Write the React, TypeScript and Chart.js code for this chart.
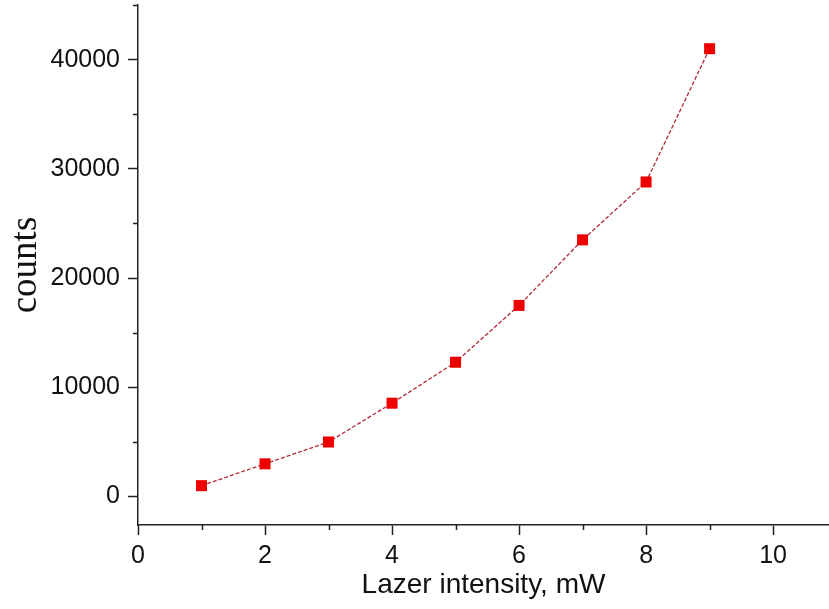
import React, { useEffect, useRef } from "react";
import { Chart, registerables } from "chart.js";

Chart.register(...registerables);

// Data
const intensities = [1, 2, 3, 4, 5, 6, 7, 8, 9];
const counts = [1000, 3000, 5000, 8550, 12300, 17500, 23500, 28800, 41000];
const xMajorTicks = [0, 2, 4, 6, 8, 10];
const yMajorTicks = [0, 10000, 20000, 30000, 40000];
const xMinorTicks = [1, 3, 5, 7, 9];
const yMinorTicks = [5000, 15000, 25000, 35000, 45000];
const xTitle = "Lazer intensity, mW";
const yTitle = "counts";

const AXIS = "#222222";

const minorTicksPlugin = {
  id: "minorTicks",
  afterDraw(chart: any) {
    const ctx = chart.ctx;
    const xs = chart.scales.x;
    const ys = chart.scales.y;
    ctx.save();
    ctx.strokeStyle = AXIS;
    ctx.lineWidth = 1.5;
    ctx.beginPath();
    xMinorTicks.forEach((v) => {
      const px = Math.round(xs.getPixelForValue(v)) + 0.5;
      ctx.moveTo(px, xs.top);
      ctx.lineTo(px, xs.top + 5);
    });
    yMinorTicks.forEach((v) => {
      const py = Math.round(ys.getPixelForValue(v)) + 0.5;
      ctx.moveTo(ys.right, py);
      ctx.lineTo(ys.right - 5, py);
    });
    ctx.stroke();
    ctx.restore();
  },
};

export default function App() {
  const ref = useRef<HTMLCanvasElement | null>(null);

  useEffect(() => {
    if (!ref.current) return;
    const chart = new Chart(ref.current, {
      type: "line",
      data: {
        datasets: [
          {
            data: intensities.map((x, i) => ({ x, y: counts[i] })),
            borderColor: "#b02a38",
            borderWidth: 1.3,
            borderDash: [4, 2],
            pointStyle: "rect",
            pointRadius: 7.8,
            pointBackgroundColor: "#ee0000",
            pointBorderColor: "#ee0000",
            pointBorderWidth: 0,
            tension: 0,
          },
        ],
      },
      options: {
        animation: false,
        responsive: false,
        events: [],
        layout: { autoPadding: false, padding: { left: 0, right: 0, top: 5, bottom: 0 } },
        plugins: {
          legend: { display: false },
          tooltip: { enabled: false },
        },
        scales: {
          x: {
            type: "linear",
            min: 0,
            max: 10.88,
            afterBuildTicks: (scale: any) => {
              scale.ticks = xMajorTicks.map((v) => ({ value: v }));
            },
            ticks: {
              color: "#111",
              padding: 6,
              font: { family: "'Liberation Sans', Arial, sans-serif", size: 25 },
              callback: (v: any) => String(v),
            },
            grid: {
              drawOnChartArea: false,
              drawTicks: true,
              tickLength: 10,
              tickColor: AXIS,
              tickWidth: 1.5,
            },
            border: { display: true, color: AXIS, width: 1.5 },
            title: {
              display: true,
              text: xTitle,
              color: "#111",
              font: { family: "'Liberation Sans', Arial, sans-serif", size: 28 },
              padding: { top: 0, bottom: 7 },
            },
            afterFit: (scale: any) => {
              scale.height = 84;
              scale.paddingLeft = 0;
              scale.paddingRight = 0;
            },
          },
          y: {
            type: "linear",
            min: -2600,
            max: 45000,
            afterBuildTicks: (scale: any) => {
              scale.ticks = yMajorTicks.map((v) => ({ value: v }));
            },
            ticks: {
              color: "#111",
              padding: 8,
              font: { family: "'Liberation Sans', Arial, sans-serif", size: 25 },
              callback: (v: any) => String(v),
            },
            grid: {
              drawOnChartArea: false,
              drawTicks: true,
              tickLength: 10,
              tickColor: AXIS,
              tickWidth: 1.5,
            },
            border: { display: true, color: AXIS, width: 1.5 },
            title: {
              display: true,
              text: yTitle,
              color: "#111",
              font: { family: "'Liberation Serif', 'Times New Roman', serif", size: 37 },
              padding: { top: 4, bottom: 0 },
            },
            afterFit: (scale: any) => {
              scale.width = 138;
              scale.paddingTop = 0;
              scale.paddingBottom = 0;
            },
          },
        },
      },
      plugins: [minorTicksPlugin],
    });
    return () => chart.destroy();
  }, []);

  return (
    <div style={{ position: "absolute", left: 0, top: 0, width: 829, height: 609, background: "#fff" }}>
      <canvas ref={ref} width={829} height={609} style={{ display: "block" }} />
    </div>
  );
}
